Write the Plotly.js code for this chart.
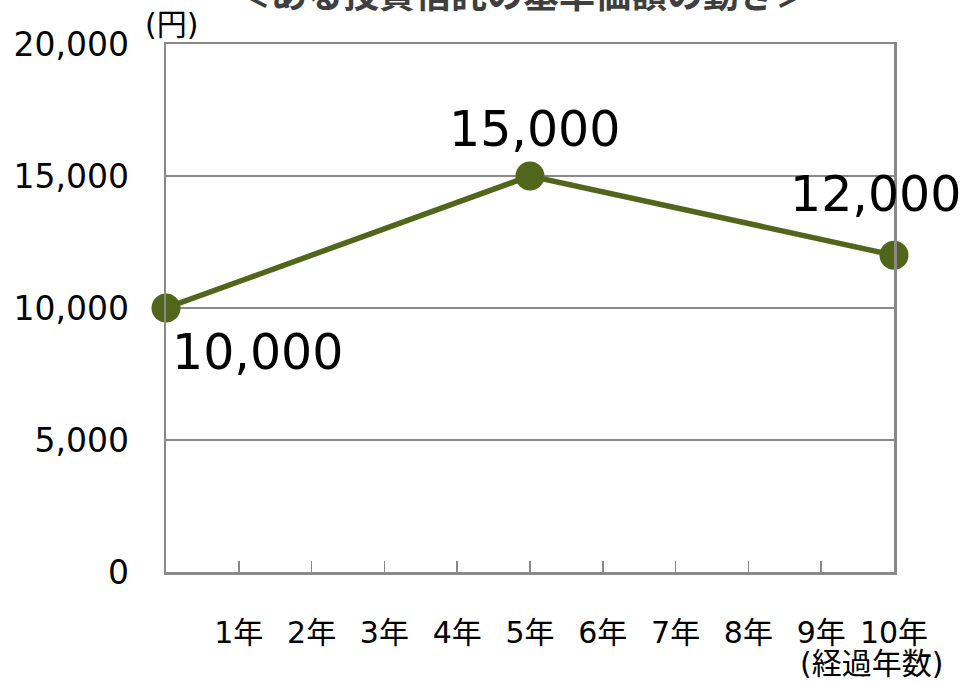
<!DOCTYPE html>
<html>
<head>
<meta charset="utf-8">
<script src="https://cdn.plot.ly/plotly-3.0.1.min.js"></script>
<style>
  html, body { margin: 0; padding: 0; background: #fff; }
  #chart { width: 966px; height: 681px; }
</style>
</head>
<body>
<div id="chart"></div>
<script>
// year since purchase and base price (yen)
var years = [0, 5, 10];
var prices = [10000, 15000, 12000];
var priceLabels = ['10,000', '15,000', '12,000'];

var tickYears = [1, 2, 3, 4, 5, 6, 7, 8, 9, 10];
var tickNames = ['1年', '2年', '3年', '4年', '5年', '6年', '7年', '8年', '9年', '10年'];

var titleText = '＜ある投資信託の基準価額の動き＞';
var yUnit = '(円)';
var xUnit = '(経過年数)';

var font = 'DejaVu Sans, Noto Sans CJK JP, sans-serif';
var olive = '#51661a';
var gray = '#898989';

var trace = {
	x: years,
	y: prices,
	type: 'scatter',
	mode: 'lines+markers',
	line: { color: olive, width: 5.5 },
	marker: { color: olive, size: 29 },
	cliponaxis: false,
	hoverinfo: 'skip'
};

// label offsets per point
var shifts = [
	{ xanchor: 'left', yanchor: 'top', xshift: 4, yshift: -14 },
	{ xanchor: 'center', yanchor: 'bottom', xshift: 4, yshift: 16 },
	{ xanchor: 'center', yanchor: 'bottom', xshift: -19, yshift: 30 }
];

var annotations = [];
for(var i = 0; i < years.length; ++i) {
	annotations.push({
		x: years[i], y: prices[i], xref: 'x', yref: 'y',
		text: priceLabels[i], showarrow: false,
		xanchor: shifts[i].xanchor, yanchor: shifts[i].yanchor,
		xshift: shifts[i].xshift, yshift: shifts[i].yshift,
		font: { family: font, size: 49, color: '#000' }
	});
}
// title sits partly above the top edge, as in the source image
annotations.push({
	x: 0.49, y: 1.0, xref: 'paper', yref: 'paper', yshift: 26,
	text: '<b>' + titleText + '</b>', showarrow: false,
	xanchor: 'center', yanchor: 'bottom',
	font: { family: font, size: 36, color: '#3f3f3f' }
});
annotations.push({
	x: -0.032, y: 1.0, xref: 'paper', yref: 'paper', yshift: 0,
	text: yUnit, showarrow: false, xanchor: 'left', yanchor: 'bottom',
	font: { family: font, size: 30, color: '#000' }
});
annotations.push({
	x: 1.07, y: 0, xref: 'paper', yref: 'paper', yshift: -72,
	text: xUnit, showarrow: false, xanchor: 'right', yanchor: 'top',
	font: { family: font, size: 30, color: '#000' }
});

var layout = {
	width: 966,
	height: 681,
	margin: { l: 166, r: 72, t: 44, b: 109 },
	paper_bgcolor: '#fff',
	plot_bgcolor: '#fff',
	showlegend: false,
	font: { family: font, color: '#000' },
	xaxis: {
		range: [0, 10],
		tickmode: 'array',
		tickvals: tickYears,
		ticktext: tickNames,
		ticks: 'inside',
		ticklen: 11,
		tickwidth: 1.5,
		tickcolor: gray,
		showgrid: false,
		zeroline: false,
		showline: true,
		mirror: true,
		linecolor: gray,
		linewidth: 2.5,
		ticklabelstandoff: 32,
		tickfont: { family: font, size: 30, color: '#000' },
		fixedrange: true
	},
	yaxis: {
		range: [0, 20000],
		tick0: 0,
		dtick: 5000,
		tickformat: ',d',
		showgrid: true,
		gridcolor: gray,
		gridwidth: 1.5,
		zeroline: false,
		showline: true,
		mirror: true,
		linecolor: gray,
		linewidth: 2.5,
		ticks: '',
		ticklabelstandoff: 28,
		tickfont: { family: font, size: 33, color: '#000' },
		fixedrange: true
	},
	annotations: annotations
};

Plotly.newPlot('chart', [trace], layout, { displayModeBar: false, staticPlot: true });
</script>
</body>
</html>
